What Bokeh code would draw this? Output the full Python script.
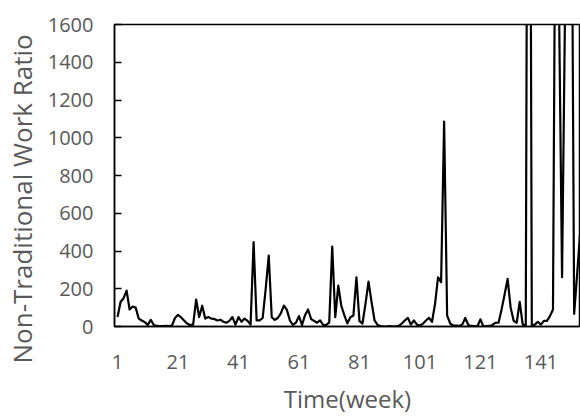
from bokeh.plotting import figure
from bokeh.models import FixedTicker, Range1d, ColumnDataSource, Title
from bokeh.embed import file_html
from bokeh.resources import INLINE

# ---- data -------------------------------------------------------------
weeks = list(range(1, 155))
ratio = [
    50, 130, 150, 190, 90, 106, 100, 42, 32, 23,          # 1-10
    8, 35, 8, 3, 2, 2, 4, 2, 5, 45,                        # 11-20
    62, 49, 32, 16, 8, 10, 143, 50, 110, 42,               # 21-30
    50, 42, 40, 32, 36, 25, 20, 30, 50, 10,                # 31-40
    50, 25, 42, 30, 10, 447, 32, 32, 45, 200,              # 41-50
    376, 49, 35, 45, 70, 111, 88, 32, 8, 20,               # 51-60
    55, 8, 60, 90, 40, 30, 20, 32, 8, 8,                   # 61-70
    20, 423, 49, 217, 110, 60, 16, 49, 58, 261,            # 71-80
    30, 15, 120, 238, 130, 32, 8, 2, 0, 0,                 # 81-90
    2, 0, 0, 3, 16, 32, 46, 10, 32, 10,                    # 91-100
    5, 15, 32, 46, 25, 120, 261, 235, 1085, 58,            # 101-110
    16, 5, 5, 3, 10, 45, 8, 3, 2, 0,                       # 111-120
    38, 0, 2, 3, 8, 20, 20, 90, 170, 252,                  # 121-130
    100, 30, 20, 130, 10, 5, 5400, 5, 10, 25,              # 131-140
    10, 30, 30, 55, 90, 3000, 1700, 261, 1700, 3000,       # 141-150
    3000, 67, 280, 500,                                    # 151-154
]
x_ticks = [1, 21, 41, 61, 81, 101, 121, 141]
y_ticks = [0, 200, 400, 600, 800, 1000, 1200, 1400, 1600]
x_title = "Time(week)"
y_title = "Non-Traditional Work Ratio"

# ---- figure -----------------------------------------------------------
FONT = "Open Sans"
GREY = "#595959"

p = figure(width=580, height=417, output_backend="svg", toolbar_location=None,
           x_range=Range1d(0, 154.1), y_range=Range1d(0, 1600),
           min_border_left=113, min_border_right=0,
           min_border_top=24, min_border_bottom=91)

src = ColumnDataSource(dict(week=weeks, ratio=ratio))
p.line("week", "ratio", source=src, line_color="black", line_width=2.2,
       line_join="round")

p.xgrid.visible = False
p.ygrid.visible = False
p.outline_line_color = "black"
p.outline_line_width = 1.5
p.background_fill_color = "white"
p.border_fill_color = "white"

p.xaxis.ticker = FixedTicker(ticks=x_ticks)
p.yaxis.ticker = FixedTicker(ticks=y_ticks)
for ax in (p.xaxis, p.yaxis):
    ax.axis_line_color = "black"
    ax.axis_line_width = 1.5
    ax.minor_tick_line_color = None
    ax.major_label_text_font = FONT
    ax.major_label_text_font_size = "20px"
    ax.major_label_text_color = GREY
    ax.major_tick_out = 0

p.xaxis.major_tick_in = 0
p.xaxis.major_label_standoff = 28
p.xaxis.axis_label = x_title
p.xaxis.axis_label_standoff = 10
p.xaxis.axis_label_text_font = FONT
p.xaxis.axis_label_text_font_size = "24px"
p.xaxis.axis_label_text_font_style = "normal"
p.xaxis.axis_label_text_color = GREY

p.yaxis.major_tick_in = 7
p.yaxis.major_tick_line_color = "black"
p.yaxis.major_tick_line_width = 1.5
p.yaxis.major_label_standoff = 21

p.add_layout(Title(text=y_title, align="left", offset=-37, standoff=6,
                   vertical_align="top",
                   text_font=FONT, text_font_size="26px",
                   text_font_style="normal", text_color=GREY), "left")

open("out.html", "w").write(file_html(p, INLINE))
